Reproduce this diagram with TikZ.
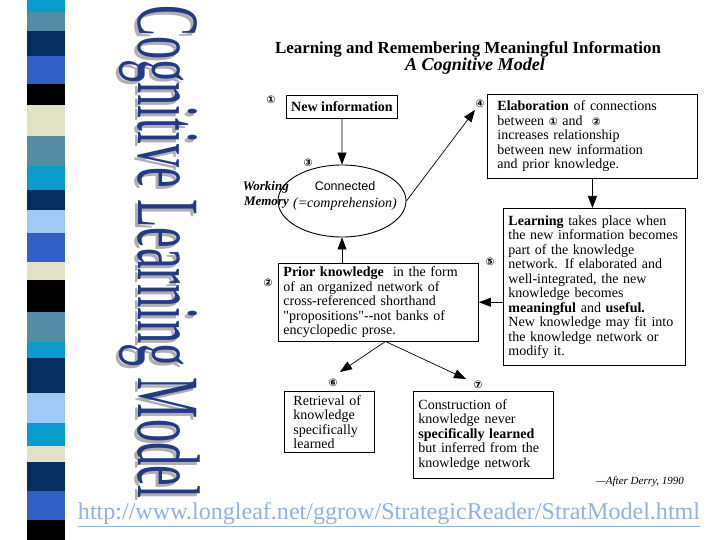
\documentclass[tikz,border=0pt]{standalone}
\usepackage{fontspec}
\setmainfont{Liberation Serif}
\newfontfamily\nomapfont{Liberation Serif}[Ligatures=TeXOff]
\newfontfamily\dejavu{DejaVu Sans}
\newfontfamily\lsans{Liberation Sans}
\usetikzlibrary{arrows.meta,shapes.geometric,calc}
\definecolor{scyan}{RGB}{10,155,205}
\definecolor{ssteel}{RGB}{85,140,165}
\definecolor{snavy}{RGB}{5,45,95}
\definecolor{sroyal}{RGB}{50,95,200}
\definecolor{sbeige}{RGB}{225,225,195}
\definecolor{slight}{RGB}{160,200,245}
\definecolor{titleblue}{RGB}{35,58,135}
\definecolor{shadowgray}{RGB}{175,175,175}
\definecolor{urlblue}{RGB}{140,180,225}
\newcommand{\circnum}[1]{{\dejavu\bfseries\fontsize{10.5}{10.5}\selectfont #1}}
\begin{document}
\begin{tikzpicture}[x=1pt,y=-1pt,
  box/.style={draw,line width=0.9pt,rectangle,anchor=north west,align=left,
    font=\fontsize{14}{14.5}\selectfont},
  num/.style={font=\dejavu\bfseries\fontsize{10.5}{10.5}\selectfont,inner sep=0pt},
  arr/.style={line width=0.7pt,-{Triangle[length=12pt,width=9pt]}},
  vtitle/.style={anchor=base west,rotate=-90,inner sep=0pt},
]
\useasboundingbox[fill=white] (0,0) rectangle (720,540);
% left stripe
\foreach \a/\b/\c in {0/12/scyan,12/31/ssteel,31/56/snavy,56/84/sroyal,84/105/black,
  105/136/sbeige,136/166/ssteel,166/190/scyan,190/210/snavy,210/233/slight,
  233/262/sroyal,262/280/sbeige,280/312/black,312/342/ssteel,342/358/scyan,
  358/393/snavy,393/423/slight,423/446/scyan,446/462/sbeige,462/491/snavy,
  491/520/sroyal,520/540/black}
  \fill[\c] (27,\a) rectangle (65,\b);
% vertical title
\node[vtitle,text=shadowgray] (vtshadow) at (135,8)
  {\scalebox{0.52}[1]{\fontsize{89}{89}\selectfont Cognitive Learning Model}};
\node[vtitle,text=titleblue] (vtitle) at (138,5)
  {\scalebox{0.52}[1]{\fontsize{89}{89}\selectfont Cognitive Learning Model}};
% header
\node[inner sep=0pt] (head1) at (468,49)
  {\resizebox{386pt}{!}{\fontsize{16}{16}\selectfont\bfseries Learning and Remembering Meaningful Information}};
\node[inner sep=0pt] (head2) at (475,66)
  {\resizebox{140pt}{!}{\fontsize{16}{16}\selectfont\bfseries\itshape A Cognitive Model}};
% boxes
\node[box,align=center,minimum width=111pt,minimum height=23pt,inner sep=2pt] (newinfo) at (286,95)
  {\textbf{New information}};
\node[box,text width=190pt,inner xsep=10pt,minimum height=84pt] (elab) at (487,94)
  {\textbf{Elaboration} of connections\\
   between \circnum{①} and\ \ \circnum{②}\\
   increases relationship\\
   between new information\\
   and prior knowledge.};
\node[ellipse,draw,line width=0.9pt,minimum width=128pt,minimum height=72pt,inner sep=0pt] (wm) at (342,201) {};
\node[font=\lsans\fontsize{12.5}{12.5}\selectfont,inner sep=0pt] (conn) at (345,186) {Connected};
\node[font=\fontsize{14}{14}\selectfont\itshape,inner sep=0pt] (compr) at (345,204) {(=comprehension)};
\node[font=\fontsize{13}{15}\selectfont\itshape\bfseries,align=right,inner sep=0pt,anchor=east] (wmlabel) at (289,195) {Working\\Memory};
\node[box,text width=172pt,inner xsep=5pt,minimum height=157pt] (learn) at (503,208)
  {\textbf{Learning} takes place when\\
   the new information becomes\\
   part of the knowledge\\
   network. If elaborated and\\
   well-integrated, the new\\
   knowledge becomes\\
   \textbf{meaningful} and \textbf{useful.}\\
   New knowledge may fit into\\
   the knowledge network or\\
   modify it.};
\node[box,text width=190pt,inner xsep=5pt,minimum height=77pt] (prior) at (278,263)
  {\textbf{Prior knowledge}\ \ in the form\\
   of an organized network of\\
   cross-referenced shorthand\\
   {\nomapfont "propositions"--not banks of}\\
   encyclopedic prose.};
\node[box,text width=72pt,inner xsep=9pt,minimum height=61pt] (retr) at (284,391)
  {Retrieval of\\
   knowledge\\
   specifically\\
   learned};
\node[box,text width=130pt,inner xsep=5pt,minimum height=87pt] (constr) at (413,391)
  {Construction of\\
   knowledge never\\
   \textbf{specifically learned}\\
   but inferred from the\\
   knowledge network};
% numbers
\node[num] (n1) at (271,100) {①};
\node[num] (n2) at (268,283) {②};
\node[num] (n3) at (308,163) {③};
\node[num] (n4) at (480,104) {④};
\node[num] (n5) at (490,262) {⑤};
\node[num] (n6) at (333,383) {⑥};
\node[num] (n7) at (478,385) {⑦};
% connectors
\coordinate (elabtip) at ($(elab.north west)+(-12,16)$);
\coordinate (fork) at ($(prior.south)+(7,0)$);
\coordinate (rtip) at (340,372);
\coordinate (ctip) at (466,379);
\draw[arr] (newinfo.south) -- (wm.north);
\draw[arr] (wm.south |- prior.north) -- (wm.south);
\draw[arr] (wm.east) -- (elabtip);
\draw[arr] (elab.south) -- (elab.south |- learn.north);
\draw[arr] (learn.west |- prior.east) -- (prior.east);
\draw[arr] (fork) -- (rtip);
\draw[arr] (fork) -- (ctip);
% credit and url
\node[font=\fontsize{11}{11}\selectfont\itshape,inner sep=0pt] (credit) at (640,482) {---After Derry, 1990};
\node[text=urlblue,inner sep=0pt] (url) at (389,515)
  {\resizebox{622pt}{!}{\fontsize{24}{24}\selectfont\underline{http://www.longleaf.net/ggrow/StrategicReader/StratModel.html}}};
\end{tikzpicture}
\end{document}
